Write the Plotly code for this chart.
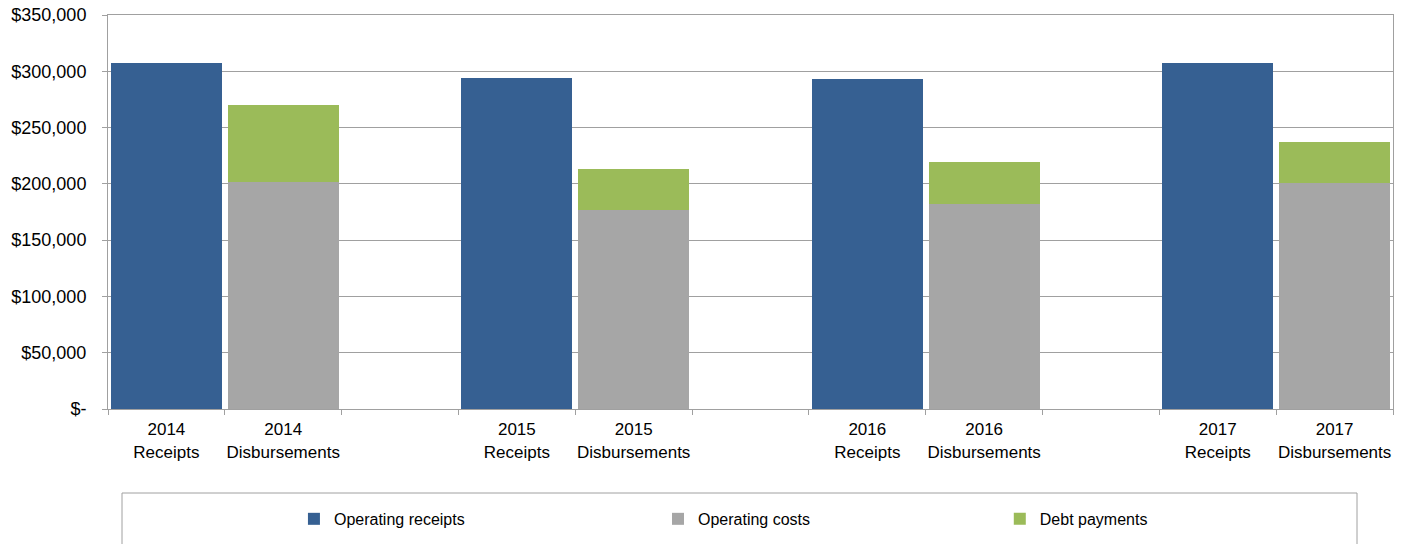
import plotly.graph_objects as go

# Category slots along the x axis (blank slots separate the years)
categories = [
    "2014<br>Receipts", "2014<br>Disbursements", " ",
    "2015<br>Receipts", "2015<br>Disbursements", "  ",
    "2016<br>Receipts", "2016<br>Disbursements", "   ",
    "2017<br>Receipts", "2017<br>Disbursements",
]

receipt_cats = ["2014<br>Receipts", "2015<br>Receipts", "2016<br>Receipts", "2017<br>Receipts"]
disb_cats = ["2014<br>Disbursements", "2015<br>Disbursements", "2016<br>Disbursements", "2017<br>Disbursements"]

operating_receipts = [307300, 294400, 292900, 307200]
operating_costs = [201600, 176500, 182400, 200500]
debt_payments = [68800, 36700, 37000, 36700]

y_tickvals = [0, 50000, 100000, 150000, 200000, 250000, 300000, 350000]
y_ticktext = ["$-", "$50,000", "$100,000", "$150,000", "$200,000", "$250,000", "$300,000", "$350,000"]

BLUE = "#366092"
GRAY = "#a6a6a6"
GREEN = "#9bbb59"
LINE = "#a0a0a0"
FONT = "Liberation Sans, Arial, sans-serif"

fig = go.Figure()
fig.add_trace(go.Bar(x=receipt_cats, y=operating_receipts, name="Operating receipts",
                     marker=dict(color=BLUE, line=dict(width=0)), legend="legend"))
fig.add_trace(go.Bar(x=disb_cats, y=operating_costs, name="Operating costs",
                     marker=dict(color=GRAY, line=dict(width=0)), legend="legend2"))
fig.add_trace(go.Bar(x=disb_cats, y=debt_payments, name="Debt payments",
                     marker=dict(color=GREEN, line=dict(width=0)), legend="legend3"))

legend_common = dict(orientation="h", yanchor="middle", y=-0.279, xanchor="left",
                     font=dict(family=FONT, size=16, color="#000000"),
                     bgcolor="rgba(0,0,0,0)", borderwidth=0, visible=True)

fig.update_layout(
    barmode="stack",
    bargap=0.05,
    width=1406, height=544,
    showlegend=True,
    margin=dict(l=108, r=13, t=15, b=135, autoexpand=False),
    paper_bgcolor="white", plot_bgcolor="white",
    font=dict(family=FONT, color="#000000"),
    legend=dict(x=0.1447, **legend_common),
    legend2=dict(x=0.428, **legend_common),
    legend3=dict(x=0.694, **legend_common),
    xaxis=dict(
        type="category", categoryorder="array", categoryarray=categories,
        range=[-0.5, len(categories) - 0.5], tickangle=0, automargin=False,
        tickson="boundaries", ticks="outside", ticklen=5, tickcolor=LINE,
        ticklabelstandoff=5,
        showgrid=False, showline=True, linecolor=LINE, linewidth=1, mirror=True,
        tickfont=dict(family=FONT, size=17, color="#000000"),
    ),
    yaxis=dict(
        range=[0, 350000], tickvals=y_tickvals, ticktext=y_ticktext, automargin=False,
        ticks="outside", ticklen=5, tickcolor=LINE, ticklabelstandoff=12,
        showgrid=True, gridcolor=LINE, gridwidth=1,
        showline=True, linecolor=LINE, linewidth=1, mirror=True,
        zeroline=False,
        tickfont=dict(family=FONT, size=18, color="#000000"),
    ),
    shapes=[dict(type="rect", xref="paper", yref="paper",
                 x0=(122 - 108) / 1285, x1=(1357 - 108) / 1285,
                 y0=-0.2132, y1=-0.40,
                 line=dict(color=LINE, width=1), fillcolor="rgba(0,0,0,0)", layer="below")],
)

fig.write_html("out.html")
